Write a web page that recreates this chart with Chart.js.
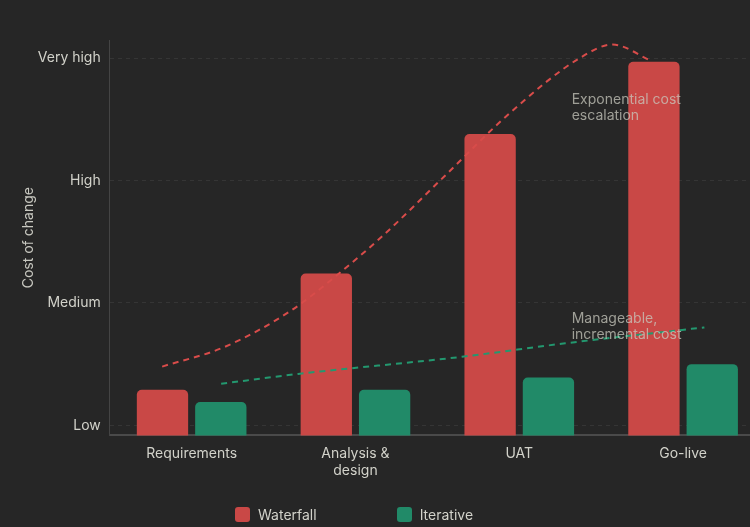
<!DOCTYPE html>
<html>
<head>
<meta charset="utf-8">
<script src="https://cdn.jsdelivr.net/npm/chart.js@4.4.0/dist/chart.umd.min.js"></script>
<style>
  html, body { margin: 0; padding: 0; background: #262626; overflow: hidden; }
  body { width: 750px; height: 527px; position: relative; font-family: Inter, "Noto Sans", sans-serif; }
  .layer { position: absolute; left: 0; top: 0; }
  #legend { position: absolute; top: 506px; left: 235px; display: flex; color: #d2d2ca; font-size: 14px; }
  .item { display: flex; align-items: center; margin-right: 80px; }
  .box { width: 15px; height: 15px; border-radius: 3px; margin-right: 8px; }
</style>
</head>
<body>
<canvas id="barChart" class="layer" width="780" height="527"></canvas>
<canvas id="trendChart" class="layer" width="780" height="527"></canvas>
<div id="legend"></div>
<script>
// phases and cost levels
const phases = ['Requirements', ['Analysis &', 'design'], 'UAT', 'Go-live'];
const waterfallCost = [1.29, 2.24, 3.38, 3.97];
const iterativeCost = [1.19, 1.29, 1.39, 1.50];
const levelTicks = [1, 2, 3, 4];
const levelLabels = ['Low', 'Medium', 'High', 'Very high'];

// trend curves, x in phase units (0 = Requirements ... 3 = Go-live)
const waterfallTrendX = [-0.18, 0.2, 0.61, 0.89, 1.16, 1.54, 1.95, 2.37, 2.57, 2.8];
const waterfallTrendY = [1.48, 1.64, 1.94, 2.23, 2.54, 3.03, 3.56, 4.0, 4.11, 3.98];
const iterativeTrendX = [0.18, 0.65, 1.65, 2.28, 3.13];
const iterativeTrendY = [1.34, 1.42, 1.56, 1.67, 1.80];

// callouts
const noteLines = [['Exponential cost', 'escalation'], ['Manageable,', 'incremental cost']];
const noteX = [2.32, 2.32];
const noteY = [3.66, 1.87];

const red = '#c94846';
const green = '#218a68';
const textColor = '#d2d2ca';
const font = { family: 'Inter', size: 14 };

// both layers share the same axes so their plot areas line up;
// the top layer draws them invisibly
function makeScales(show) {
    const none = 'rgba(0,0,0,0)';
    return {
        x: {
            type: 'category',
            offset: true,
            grid: { display: false, drawTicks: false, offset: true },
            border: { display: true, color: show ? '#4a4a4a' : none, width: 2 },
            ticks: { color: show ? textColor : none, font: font, padding: 10, maxRotation: 0 }
        },
        xl: {
            type: 'linear',
            display: false,
            offset: false,
            min: -0.5,
            max: 3.5
        },
        y: {
            min: 0.918,
            max: 4.147,
            afterBuildTicks: axis => { axis.ticks = levelTicks.map(v => ({ value: v })); },
            grid: { display: show, color: 'rgba(255, 255, 255, 0.07)', drawTicks: false },
            border: { display: true, color: show ? '#444444' : none, width: 1, dash: [4, 4] },
            ticks: {
                color: show ? textColor : none,
                font: font,
                padding: 9,
                callback: value => levelLabels[levelTicks.indexOf(value)]
            },
            title: {
                display: true,
                text: 'Cost of change',
                color: show ? '#c8c8c0' : none,
                font: font,
                padding: { top: 5, bottom: -8 }
            }
        }
    };
}

const baseOptions = {
    responsive: false,
    animation: false,
    layout: { padding: { top: 40, left: 15, right: 15, bottom: 38 } },
    plugins: { legend: { display: false }, tooltip: { enabled: false } }
};

new Chart(document.getElementById('barChart').getContext('2d'), {
    type: 'bar',
    data: {
        labels: phases,
        datasets: [
            {
                label: 'Waterfall',
                data: waterfallCost,
                backgroundColor: red,
                borderRadius: 5,
                borderSkipped: false,
                categoryPercentage: 0.712,
                barPercentage: 0.88
            },
            {
                label: 'Iterative',
                data: iterativeCost,
                backgroundColor: green,
                borderRadius: 5,
                borderSkipped: false,
                categoryPercentage: 0.712,
                barPercentage: 0.88
            }
        ]
    },
    options: Object.assign({}, baseOptions, { scales: makeScales(true) })
});

const notesPlugin = {
    id: 'notes',
    afterDatasetsDraw(chart) {
        const ctx = chart.ctx;
        const xs = chart.scales.xl;
        const ys = chart.scales.y;
        ctx.save();
        ctx.font = '14px Inter, "Noto Sans", sans-serif';
        ctx.fillStyle = 'rgba(200, 200, 190, 0.75)';
        ctx.textAlign = 'left';
        ctx.textBaseline = 'middle';
        noteLines.forEach((lines, i) => {
            const px = xs.getPixelForValue(noteX[i]);
            const py = ys.getPixelForValue(noteY[i]);
            lines.forEach((t, j) => ctx.fillText(t, px, py + j * 16));
        });
        ctx.restore();
    }
};

new Chart(document.getElementById('trendChart').getContext('2d'), {
    type: 'line',
    data: {
        labels: phases,
        datasets: [
            {
                label: 'Waterfall trend',
                data: waterfallTrendX.map((x, i) => ({ x: x, y: waterfallTrendY[i] })),
                xAxisID: 'xl',
                borderColor: '#d84c4a',
                borderWidth: 2,
                borderDash: [6, 5],
                pointRadius: 0,
                cubicInterpolationMode: 'monotone',
                fill: false
            },
            {
                label: 'Iterative trend',
                data: iterativeTrendX.map((x, i) => ({ x: x, y: iterativeTrendY[i] })),
                xAxisID: 'xl',
                borderColor: '#23986f',
                borderWidth: 2,
                borderDash: [6, 5],
                pointRadius: 0,
                cubicInterpolationMode: 'monotone',
                fill: false
            }
        ]
    },
    options: Object.assign({}, baseOptions, { scales: makeScales(false) }),
    plugins: [notesPlugin]
});

// legend for the two bar series
const legend = document.getElementById('legend');
[['Waterfall', red], ['Iterative', green]].forEach(([name, color]) => {
    const item = document.createElement('div');
    item.className = 'item';
    item.innerHTML = '<span class="box" style="background:' + color + '"></span>' + name;
    legend.appendChild(item);
});
</script>
</body>
</html>
